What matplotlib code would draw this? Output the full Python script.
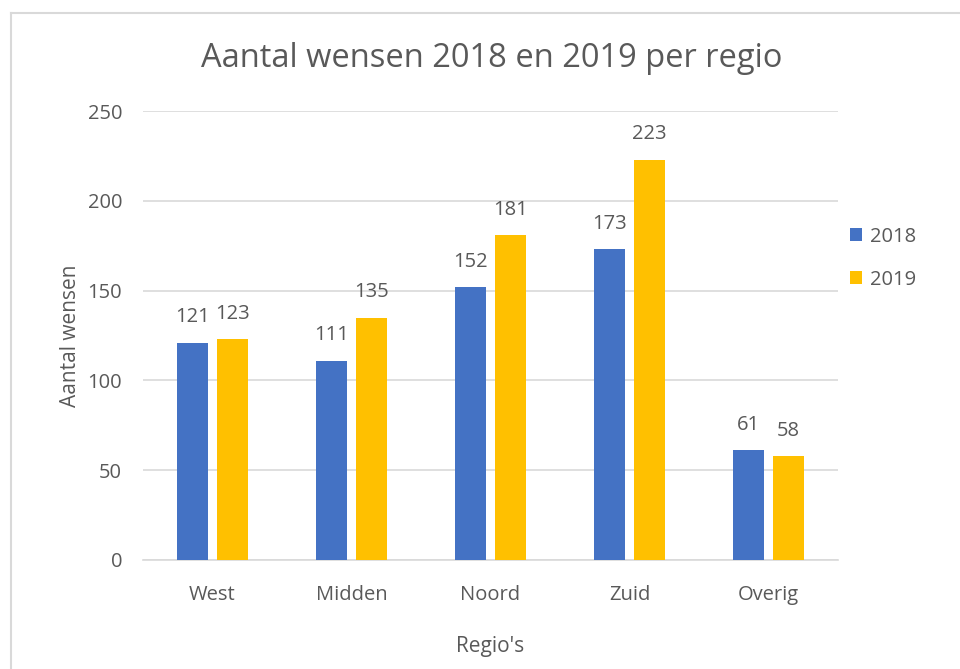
import matplotlib.pyplot as plt
import numpy as np
from matplotlib.lines import Line2D

regions = ["West", "Midden", "Noord", "Zuid", "Overig"]
series_names = ["2018", "2019"]
values_2018 = [121, 111, 152, 173, 61]
values_2019 = [123, 135, 181, 223, 58]

TEXT = "#595959"
GRID = "#D9D9D9"
BLUE = "#4472C4"
YELLOW = "#FFC000"

plt.rcParams["font.family"] = ["Open Sans", "DejaVu Sans"]

fig = plt.figure(figsize=(9.6, 6.69), dpi=100)
ax = fig.add_axes([0.149, 0.163, 0.724, 0.671])

x = np.arange(len(regions))
width = 0.223
offset = 0.143
b1 = ax.bar(x - offset, values_2018, width, color=BLUE, label=series_names[0], zorder=3)
b2 = ax.bar(x + offset, values_2019, width, color=YELLOW, label=series_names[1], zorder=3)

for bars in (b1, b2):
    ax.bar_label(bars, padding=11, color=TEXT, fontsize=14.5)

ax.set_xlim(-0.5, len(regions) - 0.5)
ax.set_ylim(0, 250)
ax.set_yticks(range(0, 251, 50))
ax.set_xticks(x)
ax.set_xticklabels(regions)
ax.tick_params(axis="both", length=0, colors=TEXT, labelsize=14.5)
ax.tick_params(axis="x", pad=18)
ax.tick_params(axis="y", pad=15)
ax.grid(axis="y", color=GRID, linewidth=1.2, zorder=0)
for side in ("top", "right", "left"):
    ax.spines[side].set_visible(False)
ax.spines["bottom"].set_color(GRID)
ax.spines["bottom"].set_linewidth(1.2)

ax.set_ylabel("Aantal wensen", color=TEXT, fontsize=15, labelpad=5)
ax.set_xlabel("Regio's", color=TEXT, fontsize=15, labelpad=22)
fig.text(0.512, 0.913, "Aantal wensen 2018 en 2019 per regio", ha="center", va="center",
         color=TEXT, fontsize=23.5)

leg = ax.legend(loc="center left", bbox_to_anchor=(1.0, 0.672), frameon=False,
                fontsize=14.5, handlelength=0.6, handleheight=0.6, handletextpad=0.4,
                labelspacing=1.15, borderaxespad=0.2)
for t in leg.get_texts():
    t.set_color(TEXT)

# chart border (left and top only visible in the crop)
fig.add_artist(Line2D([0.011, 0.011], [0, 0.981], transform=fig.transFigure, color=GRID, linewidth=1.5))
fig.add_artist(Line2D([0.011, 1.0], [0.981, 0.981], transform=fig.transFigure, color=GRID, linewidth=1.5))

fig.savefig("out.png", dpi=100)
